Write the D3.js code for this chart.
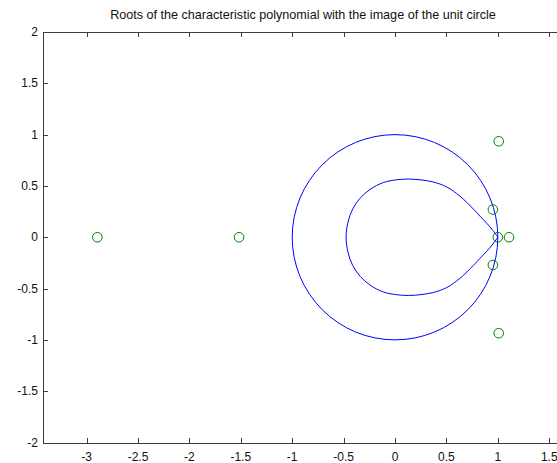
<!DOCTYPE html>
<html>
<head>
<meta charset="utf-8">
<script src="https://cdn.jsdelivr.net/npm/d3@7"></script>
<style>
  html, body { margin: 0; padding: 0; background: #fff; }
  svg { display: block; }
  text { font-family: "Liberation Sans", Arial, Helvetica, sans-serif; fill: #111; }
</style>
</head>
<body>
<svg id="chart" width="557" height="463"></svg>
<script>
// Axis ticks
const xTicks = [-3, -2.5, -2, -1.5, -1, -0.5, 0, 0.5, 1, 1.5];
const yTicks = [-2, -1.5, -1, -0.5, 0, 0.5, 1, 1.5, 2];

// Roots of the characteristic polynomial (real, imaginary)
const rootsRe = [-2.895, -1.517, 1.009, 1.009, 0.952, 0.952, 1.0, 1.109];
const rootsIm = [0, 0, 0.935, -0.935, 0.27, -0.27, 0, 0];

// Unit circle radius
const unitRadius = 1;

// Image of the unit circle: closed curve traced from the cusp at (1, 0)
const imageRe = [1.000, 0.945, 0.892, 0.827, 0.762, 0.632, 0.503, 0.373, 0.243, 0.130, 0.016,
                 -0.114, -0.243, -0.340, -0.412, -0.458, -0.476,
                 -0.458, -0.412, -0.340, -0.243, -0.114, 0.016, 0.130, 0.243,
                 0.373, 0.503, 0.632, 0.762, 0.827, 0.892, 0.945, 1.000];
const imageIm = [0.000, 0.075, 0.137, 0.205, 0.275, 0.400, 0.490, 0.538, 0.560, 0.567, 0.560,
                 0.533, 0.466, 0.380, 0.274, 0.145, 0.000,
                 -0.145, -0.274, -0.380, -0.466, -0.533, -0.560, -0.567, -0.560,
                 -0.538, -0.490, -0.400, -0.275, -0.205, -0.137, -0.075, 0.000];

const titleText = "Roots of the characteristic polynomial with the image of the unit circle";

const svg = d3.select("#chart");
const mLeft = 43, mRight = 563, mTop = 32, mBottom = 442.5;

const x = d3.scaleLinear().domain([-3.424, 1.634]).range([mLeft, mRight]);
const y = d3.scaleLinear().domain([-2, 2]).range([mBottom, mTop]);

const axisColor = "#3c3c3c";
const tickLen = 5;

// Plot box
svg.append("rect")
  .attr("x", mLeft + 0.5).attr("y", mTop + 0.5)
  .attr("width", mRight - mLeft).attr("height", mBottom - mTop)
  .attr("fill", "none").attr("stroke", axisColor).attr("stroke-width", 1)
  .attr("shape-rendering", "crispEdges");

// Inward ticks on bottom and top
const gx = svg.append("g").attr("shape-rendering", "crispEdges");
xTicks.forEach(t => {
  const px = Math.round(x(t)) + 0.5;
  gx.append("line").attr("x1", px).attr("x2", px)
    .attr("y1", mBottom).attr("y2", mBottom - tickLen).attr("stroke", axisColor);
  gx.append("line").attr("x1", px).attr("x2", px)
    .attr("y1", mTop).attr("y2", mTop + tickLen).attr("stroke", axisColor);
  svg.append("text")
    .attr("x", x(t)).attr("y", mBottom + 18)
    .attr("text-anchor", "middle").attr("font-size", 12)
    .text(t);
});

// Inward ticks on the left
yTicks.forEach(t => {
  const py = Math.round(y(t)) + 0.5;
  gx.append("line").attr("x1", mLeft).attr("x2", mLeft + tickLen)
    .attr("y1", py).attr("y2", py).attr("stroke", axisColor);
  svg.append("text")
    .attr("x", mLeft - 5).attr("y", y(t) + 4)
    .attr("text-anchor", "end").attr("font-size", 12)
    .text(t);
});

// Title
svg.append("text")
  .attr("x", (mLeft + mRight) / 2).attr("y", 19)
  .attr("text-anchor", "middle").attr("font-size", 12.6)
  .text(titleText);

const plot = svg.append("g");

// Unit circle
plot.append("ellipse")
  .attr("cx", x(0)).attr("cy", y(0))
  .attr("rx", x(unitRadius) - x(0)).attr("ry", y(0) - y(unitRadius))
  .attr("fill", "none").attr("stroke", "#0000ff").attr("stroke-width", 1);

// Image of the unit circle
const pts = imageRe.map((re, i) => [re, imageIm[i]]);
plot.append("path")
  .datum(pts)
  .attr("d", d3.line().x(d => x(d[0])).y(d => y(d[1])).curve(d3.curveCatmullRom.alpha(0.5)))
  .attr("fill", "none").attr("stroke", "#0000ff").attr("stroke-width", 1);

// Roots
plot.selectAll("circle.root")
  .data(rootsRe.map((re, i) => [re, rootsIm[i]]))
  .join("circle")
  .attr("class", "root")
  .attr("cx", d => x(d[0])).attr("cy", d => y(d[1]))
  .attr("r", 4.8)
  .attr("fill", "none").attr("stroke", "#008000").attr("stroke-width", 1);
</script>
</body>
</html>
